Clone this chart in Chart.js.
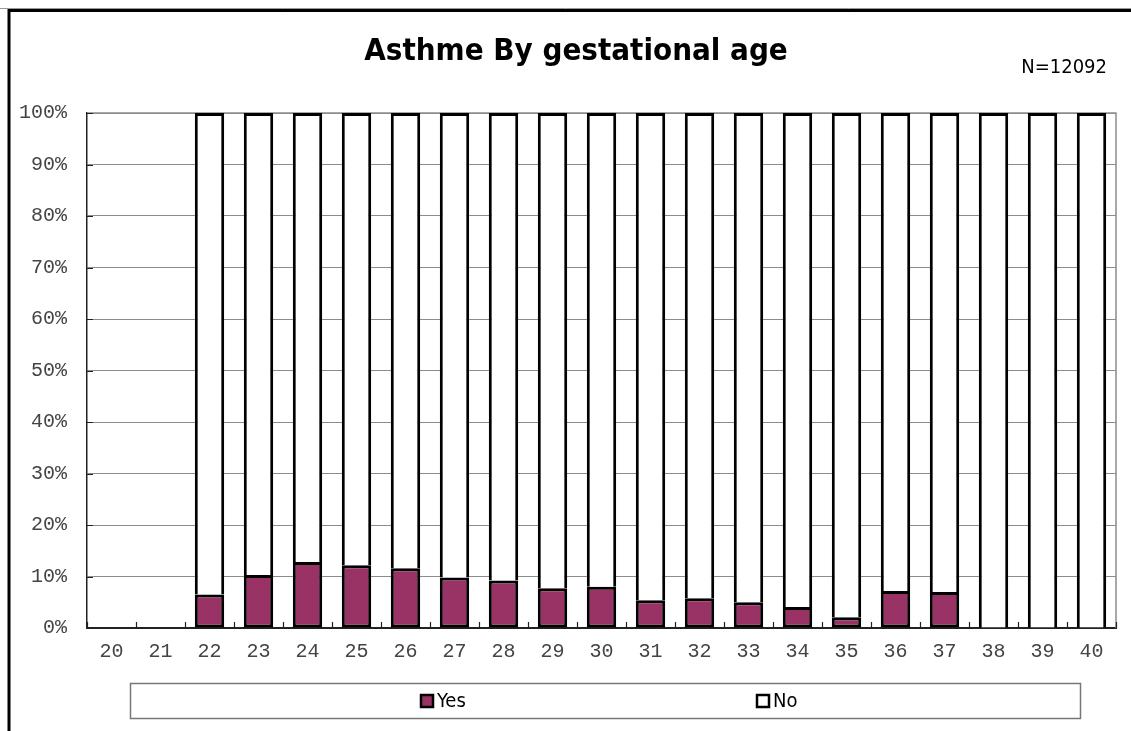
<!DOCTYPE html>
<html>
<head>
<meta charset="utf-8">
<title>Asthme By gestational age</title>
<script src="https://cdn.jsdelivr.net/npm/chart.js@4.4.1/dist/chart.umd.min.js"></script>
<style>
  html, body { margin: 0; padding: 0; background: #fff; }
  canvas { display: block; }
</style>
</head>
<body>
<canvas id="asthmaChart" width="1131" height="731"></canvas>
<script>
// Asthma share by gestational age (weeks), 100% stacked

const ages = ['20', '21', '22', '23', '24', '25', '26', '27', '28', '29', '30',
              '31', '32', '33', '34', '35', '36', '37', '38', '39', '40'];
const yesPct = [null, null, 6.5, 10.3, 12.8, 12.2, 11.6, 9.8, 9.2, 7.7, 8.0,
                5.4, 5.8, 5.0, 4.1, 2.1, 7.2, 7.0, 0, 0, 0];
const noPct = [null, null, 93.5, 89.7, 87.2, 87.8, 88.4, 90.2, 90.8, 92.3, 92.0,
               94.6, 94.2, 95.0, 95.9, 97.9, 92.8, 93.0, 100, 100, 100];
const seriesNames = ['Yes', 'No'];
const seriesColors = ['#993366', '#ffffff'];
const chartTitle = 'Asthme By gestational age';
const sampleNote = 'N=12092';

const sansFont = "'DejaVu Sans Condensed', 'DejaVu Sans', sans-serif";
const monoFont = "'Liberation Mono', 'DejaVu Sans Mono', monospace";

// page frame, title, plot border, inner tick marks and boxed legend
const framePlugin = {
  id: 'frame',
  beforeDraw(chart) {
    const ctx = chart.ctx;
    ctx.save();
    ctx.fillStyle = '#fff';
    ctx.fillRect(0, 0, chart.width, chart.height);
    ctx.strokeStyle = '#999';
    ctx.lineWidth = 1;
    ctx.beginPath();
    ctx.moveTo(0, 8.5);
    ctx.lineTo(chart.width, 8.5);
    ctx.stroke();
    ctx.strokeStyle = '#000';
    ctx.lineWidth = 3;
    ctx.strokeRect(9, 10.5, chart.width + 20, chart.height + 20);

    ctx.fillStyle = '#000';
    ctx.textBaseline = 'middle';
    ctx.textAlign = 'center';
    ctx.font = 'bold 31px ' + sansFont;
    ctx.fillText(chartTitle, 576, 52);
    ctx.textAlign = 'right';
    ctx.font = '20px ' + sansFont;
    ctx.fillText(sampleNote, 1107, 68);
    ctx.restore();
  },
  beforeDatasetsDraw(chart) {
    const ctx = chart.ctx;
    const a = chart.chartArea;
    const y = chart.scales.y;
    ctx.save();
    ctx.strokeStyle = '#8c8c8c';
    ctx.lineWidth = 1.5;
    ctx.beginPath();
    ctx.moveTo(a.left, a.top);
    ctx.lineTo(a.right, a.top);
    ctx.lineTo(a.right, a.bottom);
    ctx.stroke();

    ctx.strokeStyle = '#222';
    ctx.lineWidth = 1.2;
    ctx.beginPath();
    for (let v = 0; v <= 100; v += 10) {
      const py = Math.round(y.getPixelForValue(v)) + 0.5;
      ctx.moveTo(a.left, py);
      ctx.lineTo(a.left + 6, py);
    }
    for (let i = 0; i <= ages.length; i++) {
      const px = Math.round(a.left + (a.right - a.left) * i / ages.length) + 0.5;
      ctx.moveTo(px, a.bottom);
      ctx.lineTo(px, a.bottom - 6);
    }
    ctx.stroke();
    ctx.restore();
  },
  afterDraw(chart) {
    const ctx = chart.ctx;
    ctx.save();
    ctx.strokeStyle = '#777';
    ctx.lineWidth = 1.5;
    ctx.strokeRect(130.5, 683.5, 950, 35);

    const itemX = [421, 757];
    ctx.font = '20px ' + sansFont;
    ctx.textBaseline = 'middle';
    ctx.textAlign = 'left';
    chart.data.datasets.forEach((ds, i) => {
      ctx.fillStyle = ds.backgroundColor;
      ctx.fillRect(itemX[i], 695, 12, 12);
      ctx.strokeStyle = '#000';
      ctx.lineWidth = 2.5;
      ctx.strokeRect(itemX[i], 695, 12, 12);
      ctx.fillStyle = '#000';
      ctx.fillText(ds.label, itemX[i] + 16, 701.5);
    });
    ctx.restore();
  }
};

const ctx = document.getElementById('asthmaChart').getContext('2d');
new Chart(ctx, {
  type: 'bar',
  data: {
    labels: ages,
    datasets: [
      {
        label: seriesNames[0],
        data: yesPct,
        backgroundColor: seriesColors[0],
        borderColor: '#000',
        borderWidth: 3,
        borderSkipped: false
      },
      {
        label: seriesNames[1],
        data: noPct,
        backgroundColor: seriesColors[1],
        borderColor: '#000',
        borderWidth: { top: 3, left: 3, right: 3, bottom: 0 },
        borderSkipped: false
      }
    ]
  },
  options: {
    responsive: false,
    devicePixelRatio: 1,
    animation: false,
    layout: { padding: { top: 113, right: 15, bottom: 58, left: 0 } },
    datasets: { bar: { barPercentage: 0.6, categoryPercentage: 1.0 } },
    plugins: {
      legend: { display: false },
      title: { display: false },
      tooltip: { enabled: false }
    },
    scales: {
      x: {
        stacked: true,
        grid: { display: false, drawTicks: false },
        border: { color: '#222', width: 2 },
        ticks: { color: '#444', font: { family: monoFont, size: 20 }, padding: 12, maxRotation: 0 },
        afterFit(scale) { scale.height = 45; }
      },
      y: {
        stacked: true,
        min: 0,
        max: 100,
        grid: { color: '#8c8c8c', lineWidth: 1, drawTicks: false },
        border: { color: '#222', width: 1.5 },
        ticks: {
          stepSize: 10,
          color: '#444',
          padding: 20,
          font: { family: monoFont, size: 20 },
          callback: (v) => v + '%'
        },
        afterFit(scale) { scale.height; scale.width = 87; }
      }
    }
  },
  plugins: [framePlugin]
});
</script>
</body>
</html>
